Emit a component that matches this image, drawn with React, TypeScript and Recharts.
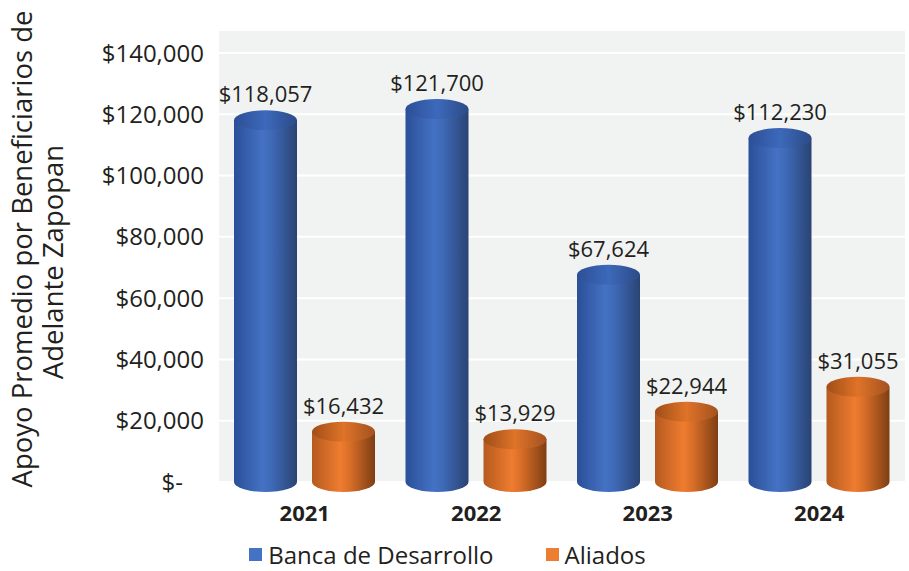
import {
  BarChart,
  Bar,
  XAxis,
  YAxis,
  CartesianGrid,
  Legend,
  LabelList,
  Customized,
} from "recharts";

const years = ["2021", "2022", "2023", "2024"];
const banca = [118057, 121700, 67624, 112230];
const aliados = [16432, 13929, 22944, 31055];
const yTicks = [0, 20000, 40000, 60000, 80000, 100000, 120000, 140000];

const data = years.map((year, i) => ({
  year,
  banca: banca[i],
  aliados: aliados[i],
}));

const FONT = "'Open Sans', sans-serif";
const TEXT = "#231f20";

const money = (v: number) => "$" + v.toLocaleString("en-US");

// cylinder: body from value down to zero, with ellipse caps
const makeCylinder = (bodyId: string, topId: string) => (props: any) => {
  const { x, y, width, height } = props;
  if (width == null || height == null) return null;
  const rx = width / 2;
  const ry = 10;
  const cx = x + rx;
  const bottom = y + height;
  const body = `M${x},${y} L${x},${bottom} A${rx},${ry} 0 0 0 ${x + width},${bottom} L${x + width},${y} Z`;
  return (
    <g>
      <path d={body} fill={`url(#${bodyId})`} />
      <ellipse cx={cx} cy={y} rx={rx} ry={ry} fill={`url(#${topId})`} />
    </g>
  );
};

const YTick = ({ x, y, payload }: any) => (
  <text
    x={payload.value === 0 ? x - 21 : x}
    y={y}
    dy="0.36em"
    textAnchor="end"
    fontFamily={FONT}
    fontSize={24}
    fill={TEXT}
  >
    {payload.value === 0 ? "$-" : money(payload.value)}
  </text>
);

const AxisTitle = () => (
  <g fontFamily={FONT} fontSize={27.5} fill={TEXT}>
    <text x={32} y={249} textAnchor="middle" transform="rotate(-90 32 249)">
      Apoyo Promedio por Beneficiarios de
    </text>
    <text x={63} y={262} textAnchor="middle" transform="rotate(-90 63 262)">
      Adelante Zapopan
    </text>
  </g>
);

const LegendContent = () => (
  <div
    style={{
      display: "flex",
      justifyContent: "center",
      alignItems: "center",
      height: 34,
      fontFamily: FONT,
      fontSize: 24,
      color: TEXT,
      gap: 52,
      paddingRight: 10,
      whiteSpace: "nowrap",
    }}
  >
    <span style={{ display: "flex", alignItems: "center", gap: 6 }}>
      <span style={{ width: 13, height: 13, background: "#4472c4" }} />
      Banca de Desarrollo
    </span>
    <span style={{ display: "flex", alignItems: "center", gap: 6 }}>
      <span style={{ width: 13, height: 13, background: "#ed7d31" }} />
      Aliados
    </span>
  </div>
);

export default function App() {
  return (
    <div style={{ position: "absolute", left: 0, top: 0, background: "#fff" }}>
      <BarChart
        width={909}
        height={571}
        data={data}
        margin={{ top: 30, right: 4, left: 0, bottom: 5 }}
        barSize={63}
        barGap={15}
      >
        <defs>
          <linearGradient id="blueBody" x1="0" y1="0" x2="1" y2="0">
            <stop offset="0" stopColor="#2b4f98" />
            <stop offset="0.45" stopColor="#4472c4" />
            <stop offset="0.6" stopColor="#3e69b6" />
            <stop offset="1" stopColor="#2a4373" />
          </linearGradient>
          <linearGradient id="blueTop" x1="0" y1="0" x2="1" y2="0">
            <stop offset="0" stopColor="#2c4f96" />
            <stop offset="0.5" stopColor="#3d69bb" />
            <stop offset="1" stopColor="#2c4a86" />
          </linearGradient>
          <linearGradient id="orangeBody" x1="0" y1="0" x2="1" y2="0">
            <stop offset="0" stopColor="#b55a1f" />
            <stop offset="0.45" stopColor="#ef7c30" />
            <stop offset="0.6" stopColor="#d86e28" />
            <stop offset="1" stopColor="#7e3e13" />
          </linearGradient>
          <linearGradient id="orangeTop" x1="0" y1="0" x2="1" y2="0">
            <stop offset="0" stopColor="#a04e18" />
            <stop offset="0.5" stopColor="#df7328" />
            <stop offset="1" stopColor="#a35220" />
          </linearGradient>
        </defs>
        <CartesianGrid
          vertical={false}
          fill="#f1f2f2"
          stroke="#ffffff"
          strokeWidth={2}
        />
        <XAxis
          dataKey="year"
          height={50}
          axisLine={false}
          tickLine={false}
          tickSize={0}
          tickMargin={23}
          tick={{ fontFamily: FONT, fontSize: 22, fontWeight: 700, fill: TEXT }}
        />
        <YAxis
          width={219}
          domain={[0, 147500]}
          ticks={yTicks}
          axisLine={false}
          tickLine={false}
          tickSize={0}
          tickMargin={15}
          tick={YTick}
        />
        <Legend
          verticalAlign="bottom"
          content={LegendContent}
          wrapperStyle={{ bottom: 0 }}
        />
        <Bar
          dataKey="banca"
          name="Banca de Desarrollo"
          fill="#4472c4"
          shape={makeCylinder("blueBody", "blueTop")}
          isAnimationActive={false}
        >
          <LabelList
            dataKey="banca"
            position="top"
            offset={18}
            formatter={(v: any) => money(v)}
            style={{ fontFamily: FONT, fontSize: 22, fill: TEXT }}
          />
        </Bar>
        <Bar
          dataKey="aliados"
          name="Aliados"
          fill="#ed7d31"
          shape={makeCylinder("orangeBody", "orangeTop")}
          isAnimationActive={false}
        >
          <LabelList
            dataKey="aliados"
            position="top"
            offset={18}
            formatter={(v: any) => money(v)}
            style={{ fontFamily: FONT, fontSize: 22, fill: TEXT }}
          />
        </Bar>
        <Customized component={AxisTitle} />
      </BarChart>
    </div>
  );
}
